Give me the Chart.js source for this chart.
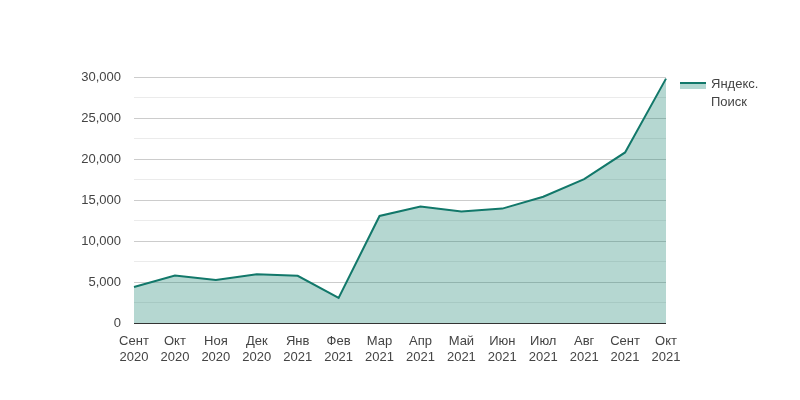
<!DOCTYPE html>
<html>
<head>
<meta charset="utf-8">
<script src="https://cdn.jsdelivr.net/npm/chart.js@4/dist/chart.umd.min.js"></script>
<style>
  body { margin: 0; background: #fff; }
  #wrap { position: relative; width: 800px; height: 400px; }
  #legend { position: absolute; left: 680px; top: 75px; font: 13px Arial, "Liberation Sans", sans-serif; color: #444; }
  #legend .swatch { position: absolute; left: 0; top: 7px; width: 26px; height: 7px; background: #b2d7d1; border-top: 2px solid #12786a; box-sizing: border-box; }
  #legend .text { position: absolute; left: 31px; top: 0; line-height: 18px; white-space: nowrap; }
</style>
</head>
<body>
<div id="wrap">
  <canvas id="myChart" width="800" height="400"></canvas>
  <div id="legend"><div class="swatch"></div><div class="text" id="legendText"></div></div>
</div>
<script>
const months = ["Сент", "Окт", "Ноя", "Дек", "Янв", "Фев", "Мар", "Апр", "Май", "Июн", "Июл", "Авг", "Сент", "Окт"];
const years = ["2020", "2020", "2020", "2020", "2021", "2021", "2021", "2021", "2021", "2021", "2021", "2021", "2021", "2021"];
const seriesName = ["Яндекс.", "Поиск"];
const searches = [4400, 5800, 5250, 5950, 5750, 3050, 13050, 14200, 13600, 13950, 15400, 17550, 20800, 29800];

document.getElementById("legendText").innerHTML = seriesName.join("<br>");

const font = { family: "Arial, 'Liberation Sans', sans-serif", size: 13 };

new Chart(document.getElementById("myChart").getContext("2d"), {
  type: "line",
  data: {
    labels: months.map((m, i) => [m, years[i]]),
    datasets: [
      {
        label: seriesName.join(" "),
        data: searches,
        borderColor: "#12786a",
        backgroundColor: "rgba(17, 125, 108, 0.31)",
        borderWidth: 2,
        pointRadius: 0,
        tension: 0,
        fill: "origin",
      },
    ],
  },
  options: {
    responsive: false,
    animation: false,
    layout: { padding: { left: 0, right: 134, top: 77, bottom: 0 } },
    plugins: { legend: { display: false }, tooltip: { enabled: false } },
    scales: {
      x: {
        offset: false,
        grid: { display: false },
        border: { display: false },
        ticks: { color: "#444", font: font, maxRotation: 0, autoSkip: false, padding: 3 },
        afterFit: (s) => { s.height = 77; },
      },
      y: {
        min: 0,
        max: 30000,
        border: { display: false },
        grid: {
          drawTicks: false,
          color: (c) => c.tick.value === 0 ? "#333" : (c.tick.value % 5000 === 0 ? "#cccccc" : "#ebebeb"),
        },
        ticks: {
          stepSize: 2500,
          color: "#444",
          font: font,
          padding: 13,
          callback: (v) => v % 5000 === 0 ? v.toLocaleString("en-US") : "",
        },
        afterFit: (s) => { s.width = 134; },
      },
    },
  },
});
</script>
</body>
</html>
